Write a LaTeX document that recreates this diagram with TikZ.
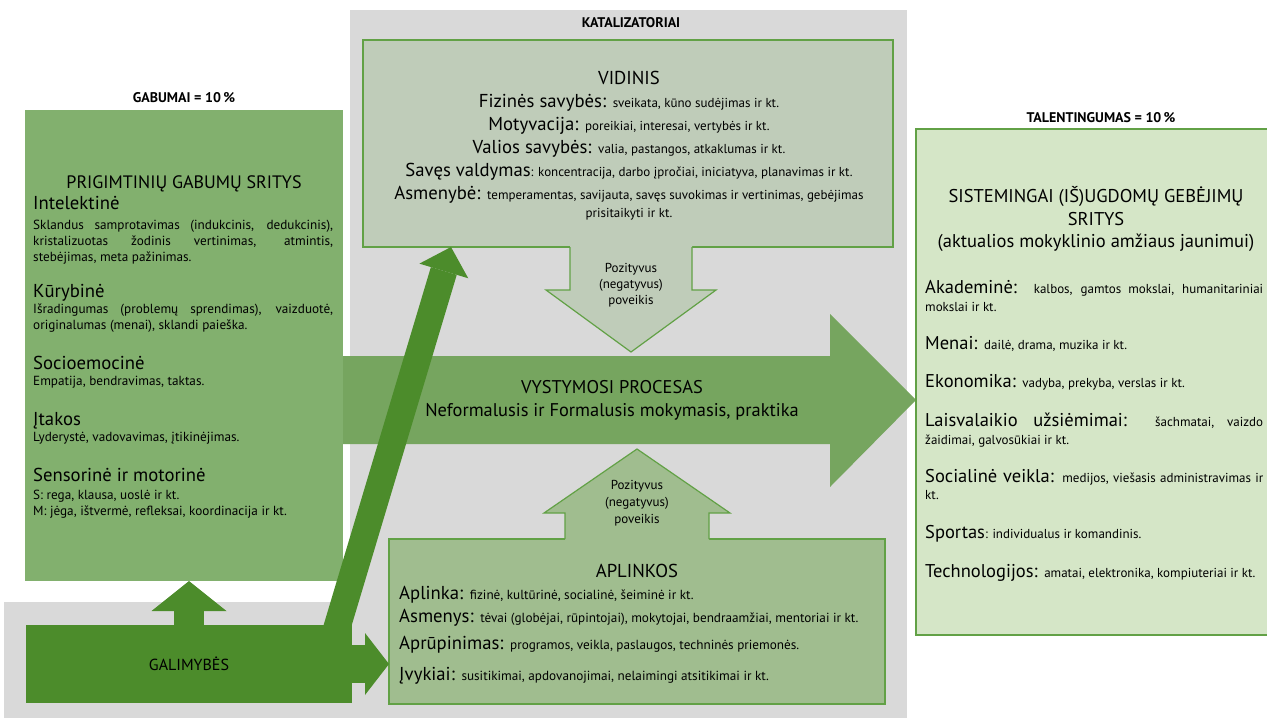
\documentclass[tikz,border=0pt]{standalone}
\usepackage{fontspec}
\setmainfont{PT Sans}
\usetikzlibrary{arrows.meta}

\definecolor{greybg}{HTML}{D9D9D9}
\definecolor{gabgreen}{HTML}{82B06E}
\definecolor{procgreen}{HTML}{76A55F}
\definecolor{vidfill}{HTML}{BFCCB9}
\definecolor{aplfill}{HTML}{A0BD8F}
\definecolor{talfill}{HTML}{D5E6C7}
\definecolor{darkgreen}{HTML}{4C8C2B}
\definecolor{edgegreen}{HTML}{62A146}

\newcommand{\labfont}{\fontsize{18.7}{22}\selectfont}
\newcommand{\bodfont}{\fontsize{13.2}{16}\selectfont}
\newcommand{\vidfont}{\fontsize{13}{16}\selectfont}
\newcommand{\aplfont}{\fontsize{13.2}{16}\selectfont}
\newcommand{\tallab}{\fontsize{18.5}{22}\selectfont}
\newcommand{\talbod}{\fontsize{13}{16}\selectfont}

\tikzset{
  box/.style={anchor=north west, inner sep=0pt, outer sep=0pt},
  txt/.style={anchor=base west, inner sep=0pt},
  ctxt/.style={anchor=base, inner sep=0pt},
  ttl/.style={ctxt, font=\fontsize{14}{16}\selectfont\bfseries},
  pozl/.style={ctxt, font=\fontsize{13}{15}\selectfont},
  edge/.style={draw=edgegreen, line width=1.2pt},
  blockarrow/.style={darkgreen, line width=#1},
}

\begin{document}
\begin{tikzpicture}[x=1pt,y=-1pt]
\useasboundingbox (0,0) rectangle (1267,718);
\fill[greybg] (350,10) rectangle (907,718);
\fill[greybg] (4,602) rectangle (350,718);
%
\node[box, fill=gabgreen, minimum width=318pt, minimum height=471pt] (gabumai) at (25,110) {};
\node[ttl] (gabttl) at (184,102) {GABUMAI = 10\,\%};
\node[ctxt, font=\fontsize{18}{22}\selectfont] (gabhead) at (184,188) {PRIGIMTINIŲ GABUMŲ SRITYS};
\node[txt, font=\labfont] (intel) at (33,209) {Intelektinė};
\node[txt, font=\bodfont] (intel1) at (33,229) {\makebox[300pt][s]{Sklandus samprotavimas (indukcinis, dedukcinis),}};
\node[txt, font=\bodfont] (intel2) at (33,245) {\makebox[300pt][s]{kristalizuotas žodinis vertinimas, atmintis,}};
\node[txt, font=\bodfont] (intel3) at (33,261) {stebėjimas, meta pažinimas.};
\node[txt, font=\labfont] (kur) at (33,297) {Kūrybinė};
\node[txt, font=\bodfont] (kur1) at (33,313) {\makebox[300pt][s]{Išradingumas (problemų sprendimas), vaizduotė,}};
\node[txt, font=\bodfont] (kur2) at (33,329) {originalumas (menai), sklandi paieška.};
\node[txt, font=\labfont] (soc) at (33,369) {Socioemocinė};
\node[txt, font=\bodfont] (soc1) at (33,385) {Empatija, bendravimas, taktas.};
\node[txt, font=\labfont] (itak) at (33,425) {Įtakos};
\node[txt, font=\bodfont] (itak1) at (33,441) {Lyderystė, vadovavimas, įtikinėjimas.};
\node[txt, font=\labfont] (sens) at (33,481) {Sensorinė ir motorinė};
\node[txt, font=\bodfont] (sens1) at (33,499) {S: rega, klausa, uoslė ir kt.};
\node[txt, font=\bodfont] (sens2) at (33,515) {M: jėga, ištvermė, refleksai, koordinacija ir kt.};
%
\fill[procgreen] (343,356) -- (830,356) -- (830,314) -- (916,400) -- (830,487)
  -- (830,444) -- (343,444) -- cycle;
\node[ctxt, font=\fontsize{18.4}{22}\selectfont] (proc) at (612,393) {VYSTYMOSI PROCESAS};
\node[ctxt, font=\fontsize{18.4}{22}\selectfont] (proc2) at (612,416) {Neformalusis ir Formalusis mokymasis, praktika};
%
\node[box, fill=vidfill, edge, minimum width=530pt, minimum height=207pt] (vidinis) at (363,40) {};
\fill[vidfill] (570,245.5) -- (570,290) -- (546,290) -- (631,352) -- (716,290) -- (692,290) -- (692,245.5) -- cycle;
\draw[edge] (570,247) -- (570,290) -- (546,290) -- (631,352) -- (716,290) -- (692,290) -- (692,247);
\node[ttl] (katttl) at (631,27) {KATALIZATORIAI};
\node[ctxt, font=\labfont] (vidhead) at (629,84) {VIDINIS};
\node[ctxt] (fiz) at (629,107) {\labfont Fizinės savybės: \vidfont sveikata, kūno sudėjimas ir kt.};
\node[ctxt] (mot) at (629,130) {\labfont Motyvacija: \vidfont poreikiai, interesai, vertybės ir kt.};
\node[ctxt] (val) at (629,153) {\labfont Valios savybės: \vidfont valia, pastangos, atkaklumas ir kt.};
\node[ctxt] (sav) at (629,176) {\labfont Savęs valdymas\vidfont: koncentracija, darbo įpročiai, iniciatyva, planavimas ir kt.};
\node[ctxt] (asm) at (629,199) {\labfont Asmenybė: \vidfont temperamentas, savijauta, savęs suvokimas ir vertinimas, gebėjimas};
\node[ctxt, font=\vidfont] (asm2) at (629,217) {prisitaikyti ir kt.};
\node[pozl] (pozd1) at (631,272) {Pozityvus};
\node[pozl] (pozd2) at (631,288) {(negatyvus)};
\node[pozl] (pozd3) at (631,304) {poveikis};
%
\node[box, fill=aplfill, edge, minimum width=496pt, minimum height=165pt] (aplinkos) at (389,539) {};
\fill[aplfill] (565,540.5) -- (565,513) -- (544,513) -- (637,449) -- (730,513) -- (709,513) -- (709,540.5) -- cycle;
\draw[edge] (565,539) -- (565,513) -- (544,513) -- (637,449) -- (730,513) -- (709,513) -- (709,539);
\node[pozl] (pozu1) at (637,489) {Pozityvus};
\node[pozl] (pozu2) at (637,506) {(negatyvus)};
\node[pozl] (pozu3) at (637,523) {poveikis};
\node[ctxt, font=\labfont] (aplhead) at (637,577) {APLINKOS};
\node[txt] (apl) at (399,599) {\labfont Aplinka: \aplfont fizinė, kultūrinė, socialinė, šeiminė ir kt.};
\node[txt] (asmen) at (399,622) {\labfont Asmenys: \aplfont tėvai (globėjai, rūpintojai), mokytojai, bendraamžiai, mentoriai ir kt.};
\node[txt] (apr) at (399,649) {\labfont Aprūpinimas: \aplfont programos, veikla, paslaugos, techninės priemonės.};
\node[txt] (ivyk) at (399,680) {\labfont Įvykiai: \aplfont susitikimai, apdovanojimai, nelaimingi atsitikimai ir kt.};
%
\node[box, fill=talfill, edge, minimum width=360pt, minimum height=506pt] (talent) at (916,129) {};
\node[ttl] (talttl) at (1101,122) {TALENTINGUMAS = 10\,\%};
\node[ctxt, font=\tallab] (talhead1) at (1096,202) {SISTEMINGAI (IŠ)UGDOMŲ GEBĖJIMŲ};
\node[ctxt, font=\tallab] (talhead2) at (1096,225) {SRITYS};
\node[ctxt, font=\tallab] (talhead3) at (1096,247) {(aktualios mokyklinio amžiaus jaunimui)};
\node[txt] (akad) at (925,293) {\makebox[338pt][s]{\tallab Akademinė: \talbod kalbos, gamtos mokslai, humanitariniai}};
\node[txt, font=\talbod] (akad2) at (925,311) {mokslai ir kt.};
\node[txt] (men) at (925,349) {\tallab Menai: \talbod dailė, drama, muzika ir kt.};
\node[txt] (eko) at (925,387) {\tallab Ekonomika: \talbod vadyba, prekyba, verslas ir kt.};
\node[txt] (lais) at (925,426) {\makebox[338pt][s]{\tallab Laisvalaikio užsiėmimai: \talbod šachmatai, vaizdo}};
\node[txt, font=\talbod] (lais2) at (925,444) {žaidimai, galvosūkiai ir kt.};
\node[txt] (socv) at (925,482) {\makebox[338pt][s]{\tallab Socialinė veikla: \talbod medijos, viešasis administravimas ir}};
\node[txt, font=\talbod] (socv2) at (925,499) {kt.};
\node[txt] (sport) at (925,538) {\tallab Sportas\talbod: individualus ir komandinis.};
\node[txt] (tech) at (925,577) {\tallab Technologijos: \talbod amatai, elektronika, kompiuteriai ir kt.};
%
\coordinate (diagfoot) at (332,644);
\coordinate (diagtip) at (451,247);
\draw[blockarrow=27pt, -{Triangle[length=25pt,width=51pt,line width=0pt]}] (diagfoot) -- (diagtip);
\node[box, fill=darkgreen, minimum width=326pt, minimum height=78pt, font=\fontsize{16}{19}\selectfont] (galimybes) at (26,625) {GALIMYBĖS};
\draw[blockarrow=30pt, -{Triangle[length=30pt,width=75pt,line width=0pt]}] (galimybes.north) -- (galimybes.north |- gabumai.south);
\draw[blockarrow=38pt, -{Triangle[length=24pt,width=62pt,line width=0pt]}] (galimybes.east) -- (galimybes.east -| aplinkos.west);
\end{tikzpicture}
\end{document}
